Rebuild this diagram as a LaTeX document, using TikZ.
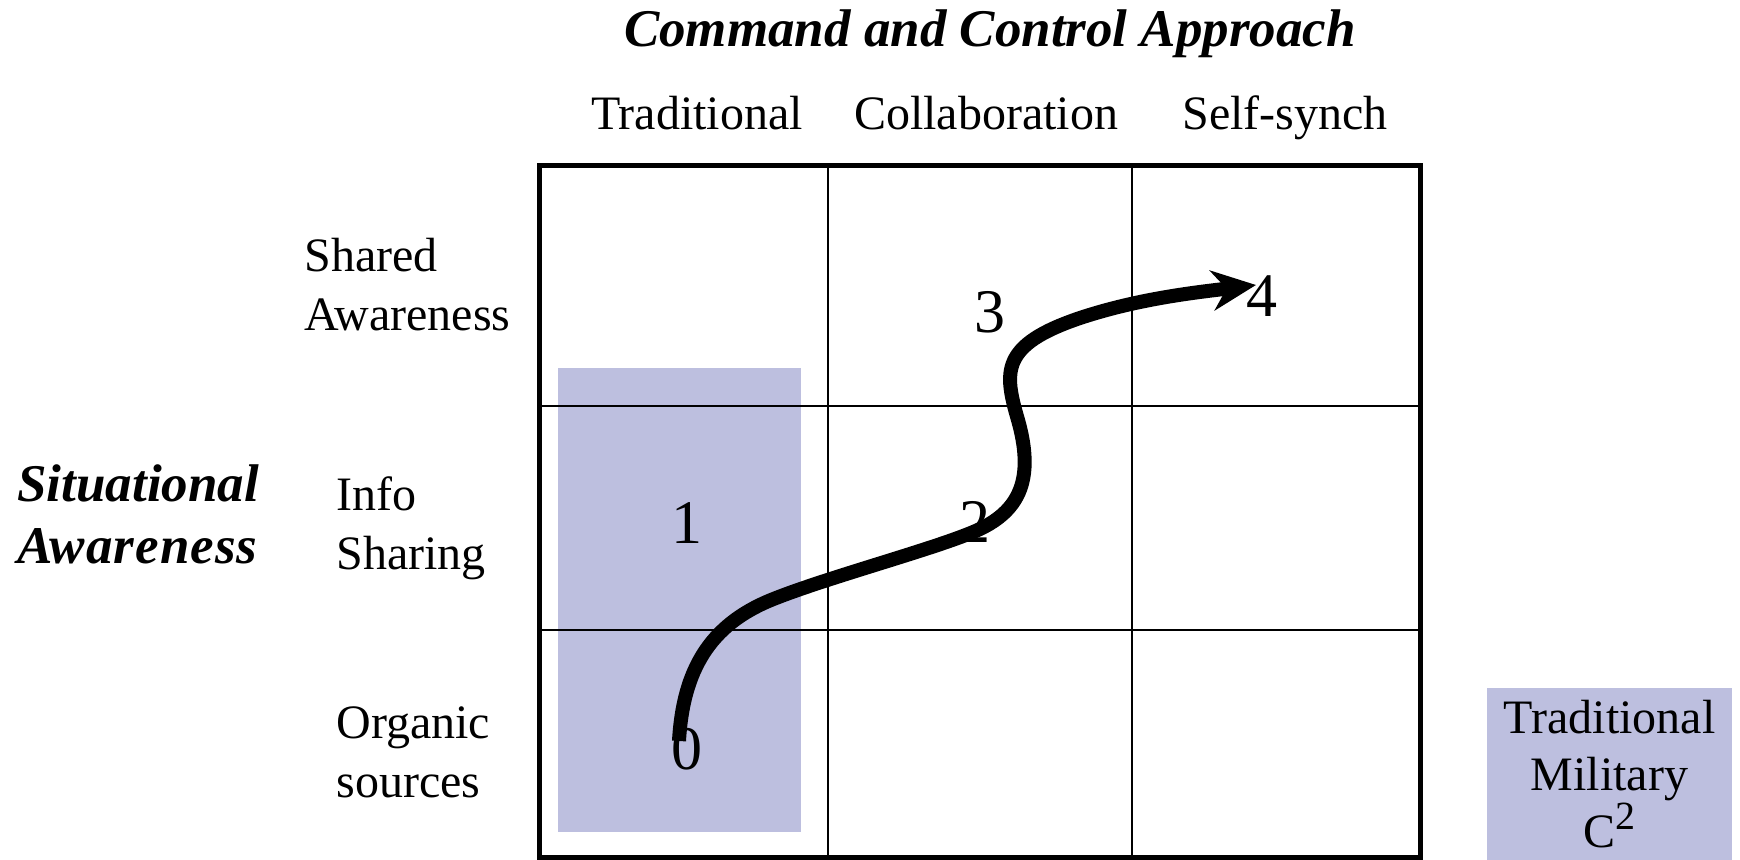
\documentclass[tikz,border=0pt]{standalone}
\usepackage{fontspec}
\setmainfont{Liberation Serif}
\usetikzlibrary{arrows.meta}
\definecolor{lav}{RGB}{189,191,223}
\begin{document}
\begin{tikzpicture}[x=0.5pt,y=-0.5pt,
  title/.style={inner sep=0pt, anchor=base, font=\fontsize{26.5}{31}\selectfont\bfseries\itshape},
  colhead/.style={inner sep=0pt, anchor=base, font=\fontsize{24}{29.5}\selectfont},
  rowlab/.style={inner sep=0pt, anchor=base west, align=left, font=\fontsize{24}{29.5}\selectfont},
  sidelab/.style={inner sep=0pt, anchor=base west, align=left, font=\fontsize{26.5}{31}\selectfont\bfseries\itshape},
  num/.style={inner sep=0pt, anchor=base, font=\fontsize{31}{36}\selectfont},
  gridline/.style={line width=0.75pt},
  frame/.style={line width=2.5pt},
  path/.style={line width=7pt, -{Stealth[length=22pt,width=20pt]}},
  legend/.style={fill=lav, inner sep=0pt, minimum width=122.5pt, minimum height=86pt, align=center, font=\fontsize{24}{28.5}\selectfont}]
\useasboundingbox (0,0) rectangle (1740,860);
% shaded traditional region
\fill[lav] (558,368) rectangle (801,832);
% grid
\draw[gridline] (828,166) -- (828,857);
\draw[gridline] (1132,166) -- (1132,857);
\draw[gridline] (539,406) -- (1420,406);
\draw[gridline] (539,630) -- (1420,630);
\draw[frame] (539,166) rectangle (1420,857);
% titles
\node[title] (ttl) at (990,47) {Command and Control Approach};
\node[colhead] (c1) at (697,130) {Traditional};
\node[colhead] (c2) at (986,130) {Collaboration};
\node[colhead] (c3) at (1285,130) {Self-synch};
\node[rowlab] (r1) at (304,331) {Shared\\Awareness};
\node[rowlab] (r2) at (336,570) {Info\\Sharing};
\node[rowlab] (r3) at (336,797) {Organic\\sources};
\node[sidelab] (sa) at (17,564) {Situational\\\addfontfeature{LetterSpace=2}Awareness};
% numbers
\node[num] (n0) at (687,769) {0};
\node[num] (n1) at (687,544) {1};
\node[num] (n2) at (975,543) {2};
\node[num] (n3) at (990,333) {3};
\node[num] (n4) at (1262,317) {4};
% path
\coordinate (s) at (679,741);
\coordinate (e) at (1256,285);
\draw[path] (s) .. controls (683,670) and (710,625) .. (771,600)
  .. controls (830,576) and (950,545) .. (984,527)
  .. controls (1018,509) and (1035,480) .. (1018,420)
  .. controls (1004,372) and (1000,345) .. (1080,318)
  .. controls (1140,298) and (1200,292) .. (e);
% legend
\node[legend] (lg) at (1609.5,774) {Traditional\\Military\\C\textsuperscript{\fontsize{20}{20}\selectfont 2}};
\end{tikzpicture}
\end{document}
